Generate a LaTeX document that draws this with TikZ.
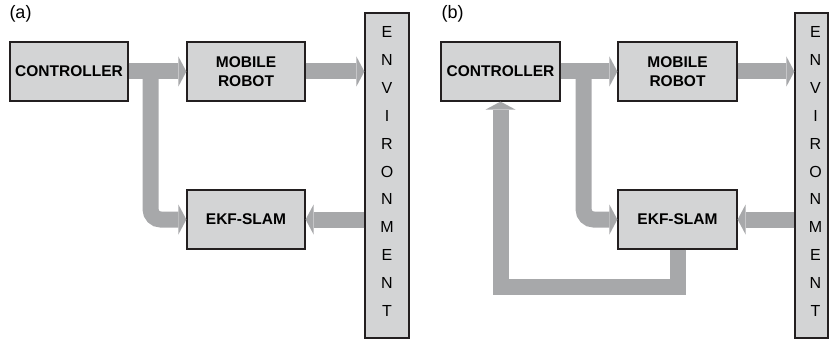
\documentclass[tikz,border=0pt]{standalone}
\usepackage{fontspec}
\setmainfont{Liberation Sans}
\usetikzlibrary{arrows.meta,calc}
\definecolor{boxfill}{HTML}{D3D4D5}
\definecolor{barcol}{HTML}{A7A8AA}
\definecolor{edgecol}{HTML}{231F20}
\tikzset{
  blk/.style={draw=edgecol, fill=boxfill, line width=1.2pt, minimum width=118pt, minimum height=59pt,
    inner sep=0pt, align=center, font=\fontsize{15.5}{19}\selectfont\bfseries},
  envbox/.style={draw=edgecol, fill=boxfill, line width=1.2pt, minimum width=44pt, minimum height=325pt, inner sep=0pt},
  envtxt/.style={align=center, inner sep=0pt, font=\fontsize{16}{27.9}\selectfont},
  tag/.style={inner sep=0pt, font=\fontsize{18}{20}\selectfont},
  bar/.style={draw=barcol, line width=16pt, line cap=butt, line join=miter,
    -{Triangle[length=8pt 0 0, width=30pt 0 0, line width=0pt 0 0]}},
  plainbar/.style={draw=barcol, line width=16pt, line cap=butt, line join=miter}
}
\begin{document}
\begin{tikzpicture}[x=1pt,y=-1pt]
\useasboundingbox (0,0) rectangle (829,342);
% ---------- (a) ----------
\node[tag] (tagA) at (20.5,14) {(a)};
\node[blk] (ctrlA) at (69,71.5) {CONTROLLER};
\node[blk] (robotA) at (246,71.5) {MOBILE\\ROBOT};
\node[blk] (ekfA) at (246,219.5) {EKF-SLAM};
\node[envbox] (envA) at (387,175.5) {};
\node[envtxt] (envAt) at ($(envA.center)+(0,-4)$) {E\\N\\V\\I\\R\\O\\N\\M\\E\\N\\T};
\coordinate (brA) at ($(ctrlA.east)+(22,0)$);
\draw[bar] (ctrlA.east) -- (robotA.west);
\draw[bar] (robotA.east) -- (robotA.east -| envA.west);
\draw[bar] (ekfA.east -| envA.west) -- (ekfA.east);
\draw[bar, rounded corners=10pt] (brA) |- (ekfA.west);
% ---------- (b) ----------
\node[tag] (tagB) at (452.5,14) {(b)};
\node[blk, minimum width=119pt] (ctrlB) at (500.5,71.5) {CONTROLLER};
\node[blk, minimum width=119pt] (robotB) at (677.5,71.5) {MOBILE\\ROBOT};
\node[blk, minimum width=119pt] (ekfB) at (677.5,219.5) {EKF-SLAM};
\node[envbox, minimum width=33pt] (envB) at (811.5,175.5) {};
\node[envtxt] (envBt) at ($(envB.center)+(4,-4)$) {E\\N\\V\\I\\R\\O\\N\\M\\E\\N\\T};
\coordinate (brB) at ($(ctrlB.east)+(23,0)$);
\coordinate (fbB) at ($(ekfB.south)+(0,37)$);
\draw[bar] (ctrlB.east) -- (robotB.west);
\draw[bar] (robotB.east) -- (robotB.east -| envB.west);
\draw[bar] (ekfB.east -| envB.west) -- (ekfB.east);
\draw[bar, rounded corners=10pt] (brB) |- (ekfB.west);
\draw[bar] (ekfB.south) -- (fbB) -| (ctrlB.south);
\end{tikzpicture}
\end{document}
